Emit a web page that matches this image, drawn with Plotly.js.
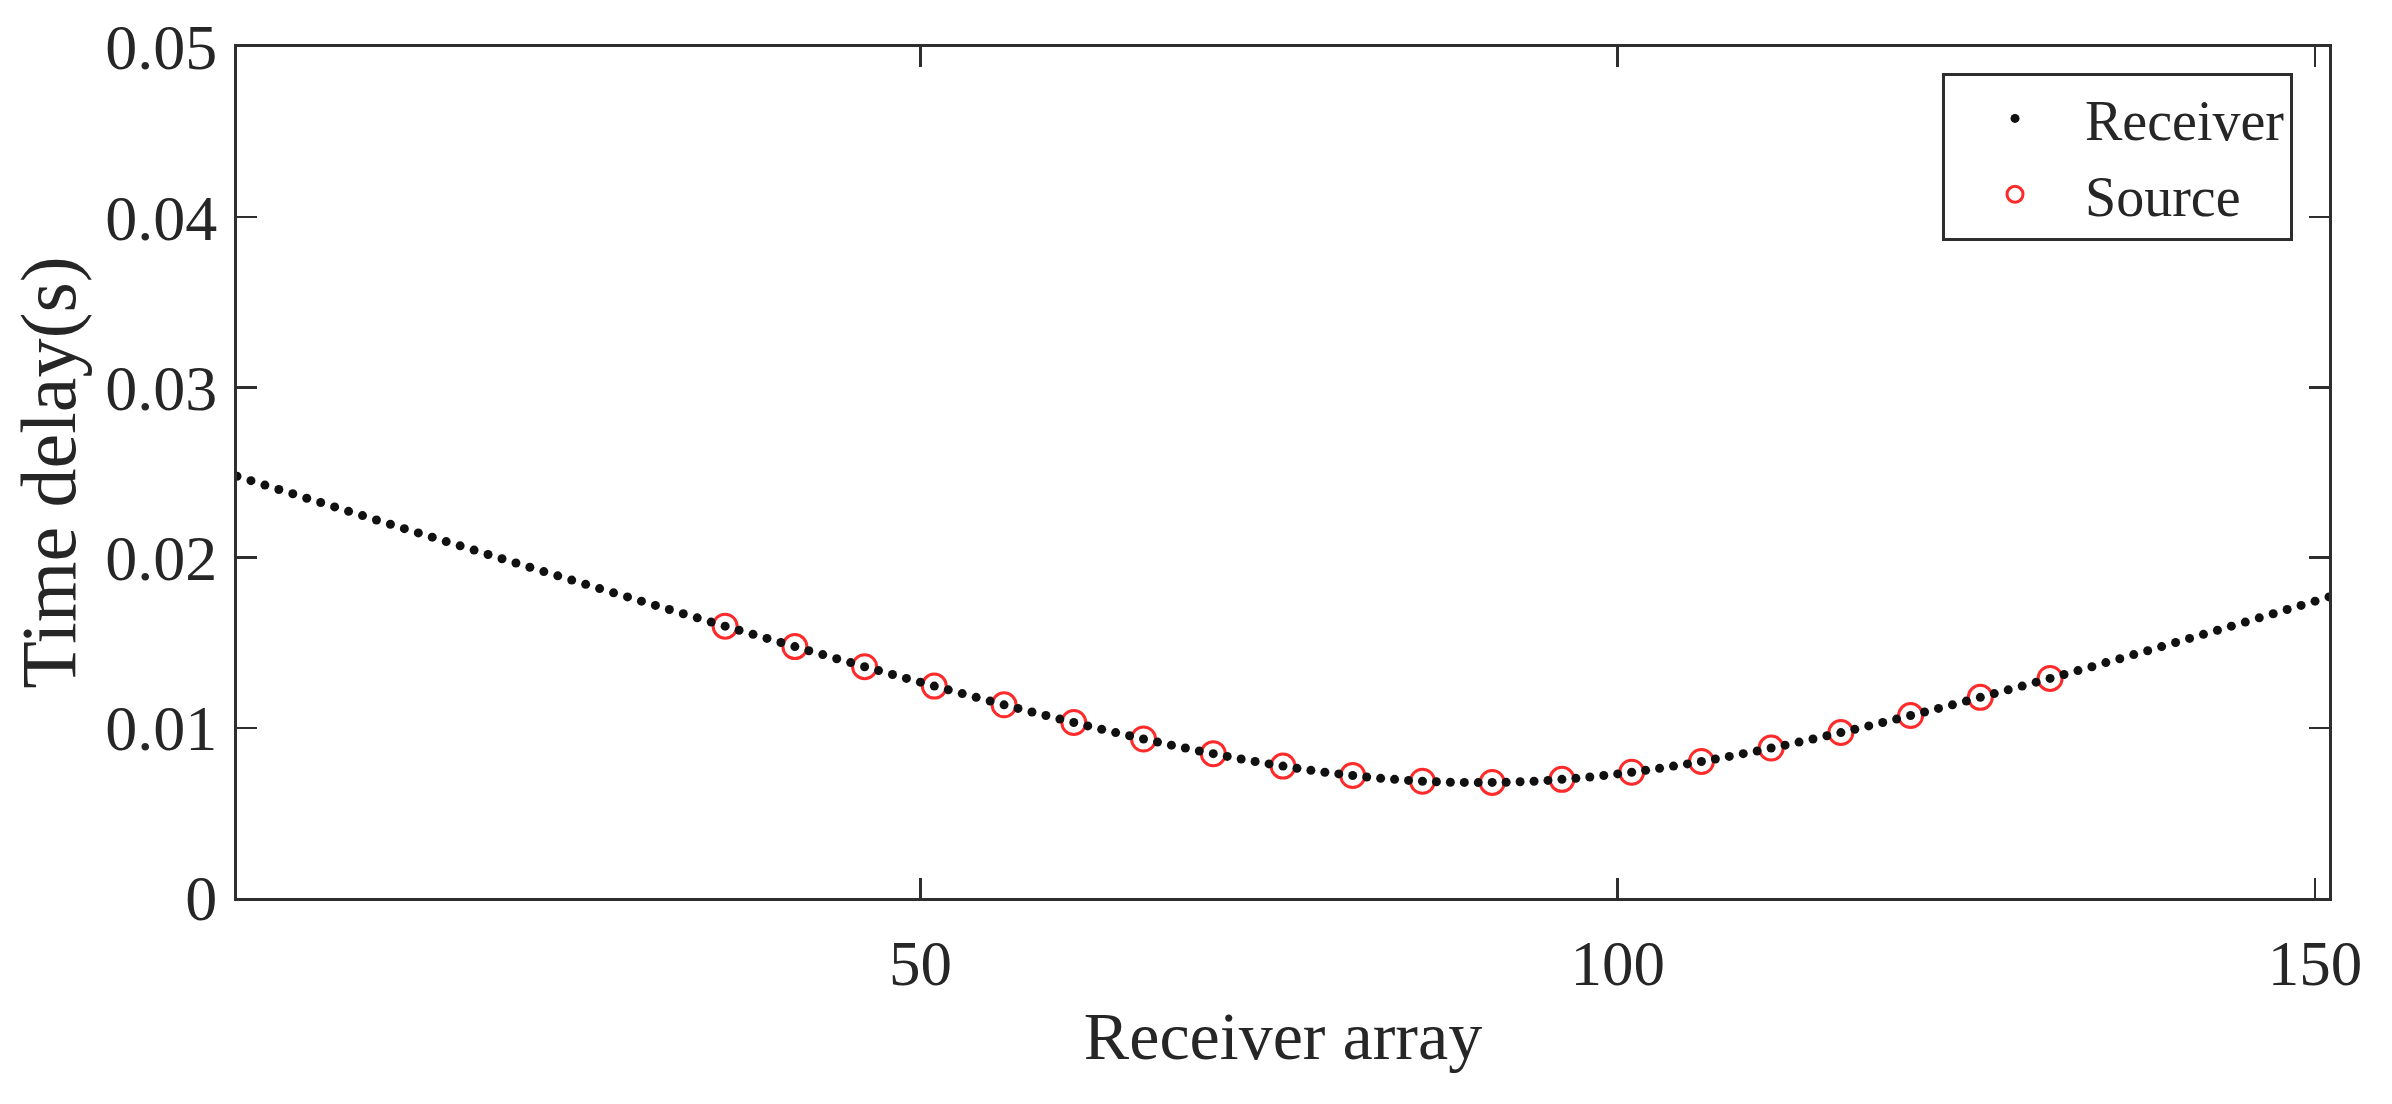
<!DOCTYPE html>
<html>
<head>
<meta charset="utf-8">
<script src="https://cdn.plot.ly/plotly-3.0.1.min.js"></script>
<style>
  html, body { margin: 0; padding: 0; background: #ffffff; }
  #chart { width: 2392px; height: 1104px; }
</style>
</head>
<body>
<div id="chart"></div>
<script>
// Receiver index (1..151) and time delay
const receiverX = [
  1,2,3,4,5,6,7,8,9,10,11,12,13,14,15,16,17,18,19,20,
  21,22,23,24,25,26,27,28,29,30,31,32,33,34,35,36,37,38,39,40,
  41,42,43,44,45,46,47,48,49,50,51,52,53,54,55,56,57,58,59,60,
  61,62,63,64,65,66,67,68,69,70,71,72,73,74,75,76,77,78,79,80,
  81,82,83,84,85,86,87,88,89,90,91,92,93,94,95,96,97,98,99,100,
  101,102,103,104,105,106,107,108,109,110,111,112,113,114,115,116,117,118,119,120,
  121,122,123,124,125,126,127,128,129,130,131,132,133,134,135,136,137,138,139,140,
  141,142,143,144,145,146,147,148,149,150,151
];
const receiverDelay = [
  0.02478,0.02452,0.02426,0.02400,0.02375,0.02349,0.02324,0.02298,0.02272,0.02247,
  0.02221,0.02196,0.02170,0.02145,0.02120,0.02094,0.02069,0.02044,0.02018,0.01993,
  0.01968,0.01943,0.01918,0.01893,0.01868,0.01843,0.01818,0.01793,0.01769,0.01744,
  0.01719,0.01695,0.01670,0.01646,0.01621,0.01597,0.01573,0.01549,0.01525,0.01501,
  0.01477,0.01453,0.01430,0.01406,0.01383,0.01359,0.01336,0.01313,0.01290,0.01268,
  0.01245,0.01223,0.01201,0.01179,0.01157,0.01135,0.01114,0.01093,0.01072,0.01051,
  0.01031,0.01011,0.00991,0.00972,0.00953,0.00934,0.00916,0.00898,0.00881,0.00864,
  0.00848,0.00832,0.00817,0.00802,0.00788,0.00775,0.00762,0.00750,0.00739,0.00729,
  0.00720,0.00711,0.00703,0.00697,0.00691,0.00686,0.00683,0.00680,0.00679,0.00678,
  0.00679,0.00680,0.00683,0.00686,0.00691,0.00697,0.00703,0.00711,0.00720,0.00729,
  0.00739,0.00750,0.00762,0.00775,0.00788,0.00802,0.00817,0.00832,0.00848,0.00864,
  0.00881,0.00898,0.00916,0.00934,0.00953,0.00972,0.00991,0.01011,0.01031,0.01051,
  0.01072,0.01093,0.01114,0.01135,0.01157,0.01179,0.01201,0.01223,0.01245,0.01268,
  0.01290,0.01313,0.01336,0.01359,0.01383,0.01406,0.01430,0.01453,0.01477,0.01501,
  0.01525,0.01549,0.01573,0.01597,0.01621,0.01646,0.01670,0.01695,0.01719,0.01744,
  0.01769
];
// Source positions and delays
const sourceX = [36,41,46,51,56,61,66,71,76,81,86,91,96,101,106,111,116,121,126,131];
const sourceDelay = [
  0.01597,0.01477,0.01359,0.01245,0.01135,0.01031,0.00934,0.00848,0.00775,0.00720,
  0.00686,0.00679,0.00697,0.00739,0.00802,0.00881,0.00972,0.01072,0.01179,0.01290
];
// Axis ticks
const xTickVals = [50, 100, 150];
const xTickText = ['50', '100', '150'];
const yTickVals = [0, 0.01, 0.02, 0.03, 0.04, 0.05];
const yTickText = ['0', '0.01', '0.02', '0.03', '0.04', '0.05'];
const seriesNames = ['Receiver', 'Source'];

const FONT = '"Liberation Serif", "Times New Roman", Times, serif';
const AXC = '#2e2e2e';

const traces = [
  {
    type: 'scatter', mode: 'markers', name: seriesNames[1],
    x: sourceX, y: sourceDelay,
    marker: { symbol: 'circle-open', size: 24, color: '#ff2a2a', line: { width: 3, color: '#ff2a2a' } },
    legendrank: 2
  },
  {
    type: 'scatter', mode: 'markers', name: seriesNames[0],
    x: receiverX, y: receiverDelay,
    marker: { symbol: 'circle', size: 9, color: '#111111' },
    legendrank: 1
  }
];

const layout = {
  width: 2392, height: 1104,
  margin: { l: 237, r: 63, t: 47, b: 206 },
  paper_bgcolor: '#ffffff', plot_bgcolor: '#ffffff',
  font: { family: FONT, color: '#262626', size: 60 },
  showlegend: true,
  legend: {
    x: 0.9828, xanchor: 'right', y: 0.970, yanchor: 'top',
    bgcolor: '#ffffff', bordercolor: AXC, borderwidth: 3,
    font: { family: FONT, size: 56, color: '#262626' },
    traceorder: 'normal', itemwidth: 130, tracegroupgap: 0
  },
  xaxis: {
    range: [1, 151], tickvals: xTickVals, ticktext: xTickText,
    ticks: 'inside', ticklen: 20, tickwidth: 2.5, tickcolor: AXC,
    showline: true, linecolor: AXC, linewidth: 3, mirror: 'ticks',
    showgrid: false, zeroline: false,
    tickfont: { family: FONT, size: 63, color: '#262626' },
    ticklabelstandoff: 8,
    title: { text: 'Receiver array', font: { family: FONT, size: 68, color: '#262626' }, standoff: 14 }
  },
  yaxis: {
    range: [0, 0.05], tickvals: yTickVals, ticktext: yTickText,
    ticks: 'inside', ticklen: 20, tickwidth: 2.5, tickcolor: AXC,
    showline: true, linecolor: AXC, linewidth: 3, mirror: 'ticks',
    showgrid: false, zeroline: false,
    tickfont: { family: FONT, size: 64, color: '#262626' },
    ticklabelstandoff: 4,
    title: { text: 'Time delay(s)', font: { family: FONT, size: 78, color: '#262626' }, standoff: 4 }
  }
};

Plotly.newPlot('chart', traces, layout, { displayModeBar: false, staticPlot: true });
</script>
</body>
</html>
